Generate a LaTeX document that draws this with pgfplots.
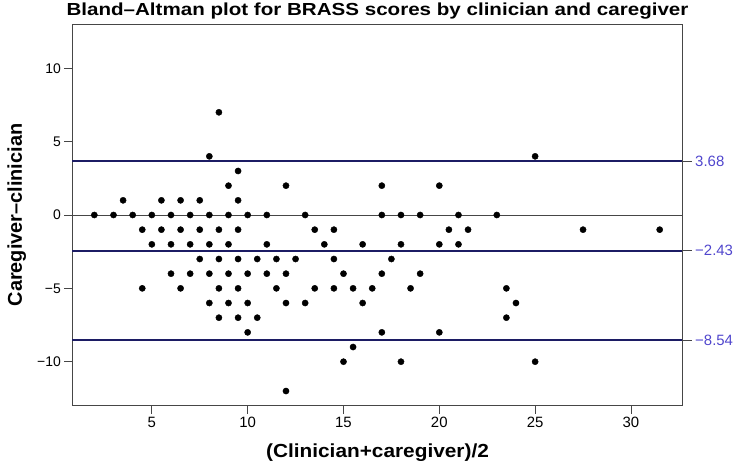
\documentclass[border=0pt]{standalone}
\usepackage{fontspec}
\setmainfont{Liberation Sans}
\usepackage{graphicx}
\usepackage{pgfplots}
\pgfplotsset{compat=1.18}
\definecolor{navyline}{RGB}{28,28,100}
\definecolor{lablue}{RGB}{80,70,205}
\definecolor{axgray}{RGB}{70,70,70}
\begin{document}
\begin{tikzpicture}
\begin{axis}[
  name=ax,
  scale only axis,
  width=610.4bp, height=381.4bp,
  xmin=0.85, xmax=32.7, ymin=-13, ymax=13,
  axis line style={axgray, line width=0.9bp},
  xtick={5,10,15,20,25,30},
  ytick={-10,-5,0,5,10},
  yticklabels={−10,−5,0,5,10},
  xtick pos=bottom, ytick pos=left,
  tick align=outside,
  major tick length=8bp,
  tick style={axgray, line width=0.9bp},
  x tick label style={font=\fontsize{15}{18}\selectfont},
  y tick label style={font=\fontsize{14}{17}\selectfont},
  /pgf/number format/assume math mode=true,
  every axis title shift=0pt,
  title={\scalebox{1.18}[1]{\bfseries Bland–Altman plot for BRASS scores by clinician and caregiver}},
  title style={font=\fontsize{17.5}{20}\selectfont, inner sep=0pt, at={(axis description cs:0.5,1.036)}, anchor=center},
  xlabel={\scalebox{1.1}[1]{\bfseries (Clinician+caregiver)/2}},
  xlabel style={font=\fontsize{19}{22}\selectfont, inner sep=0pt, at={(axis description cs:0.5,-0.122)}, anchor=center},
  ylabel={\bfseries Caregiver–clinician},
  ylabel style={font=\fontsize{20}{23}\selectfont, inner sep=0pt, at={(axis description cs:-0.091,0.5)}, anchor=center},
  clip=false,
]
\addplot[axgray, line width=0.9bp] coordinates {(0.85,0) (32.7,0)};
\addplot[navyline, line width=2bp] coordinates {(0.85,3.68) (32.7,3.68)};
\addplot[navyline, line width=2bp] coordinates {(0.85,-2.43) (32.7,-2.43)};
\addplot[navyline, line width=2bp] coordinates {(0.85,-8.54) (32.7,-8.54)};
\addplot[only marks, mark=*, mark size=3.1bp, black] table {
x y
8.5 7
8 4
25 4
9.5 3
9 2
12 2
17 2
20 2
3.5 1
5.5 1
6.5 1
7.5 1
9.5 1
2 0
3 0
4 0
5 0
6 0
7 0
8 0
9 0
10 0
11 0
13 0
17 0
18 0
19 0
21 0
23 0
4.5 -1
5.5 -1
6.5 -1
7.5 -1
8.5 -1
9.5 -1
13.5 -1
14.5 -1
20.5 -1
21.5 -1
27.5 -1
31.5 -1
5 -2
6 -2
7 -2
8 -2
9 -2
11 -2
14 -2
16 -2
18 -2
20 -2
21 -2
7.5 -3
8.5 -3
9.5 -3
10.5 -3
11.5 -3
12.5 -3
14.5 -3
17.5 -3
6 -4
7 -4
8 -4
9 -4
10 -4
11 -4
12 -4
15 -4
17 -4
19 -4
4.5 -5
6.5 -5
8.5 -5
9.5 -5
11.5 -5
13.5 -5
14.5 -5
15.5 -5
16.5 -5
18.5 -5
23.5 -5
8 -6
9 -6
10 -6
12 -6
13 -6
16 -6
24 -6
8.5 -7
9.5 -7
10.5 -7
23.5 -7
10 -8
17 -8
20 -8
15.5 -9
15 -10
18 -10
25 -10
12 -12
};
\end{axis}
\begin{axis}[
  scale only axis,
  width=610.4bp, height=381.4bp,
  xmin=0.85, xmax=32.7, ymin=-13, ymax=13,
  hide x axis,
  axis y line*=right,
  axis line style={axgray, line width=0.9bp},
  ytick={3.68,-2.43,-8.54},
  yticklabels={3.68,−2.43,−8.54},
  tick align=outside,
  major tick length=9bp,
  tick style={axgray, line width=0.9bp},
  y tick label style={font=\fontsize{15}{18}\selectfont, text=lablue},
  /pgf/number format/assume math mode=true,
]
\end{axis}
\pgfresetboundingbox
\path[use as bounding box] (ax.south west) ++(-72.3bp,-60.3bp) rectangle ++(740bp,466bp);
\end{tikzpicture}
\end{document}
